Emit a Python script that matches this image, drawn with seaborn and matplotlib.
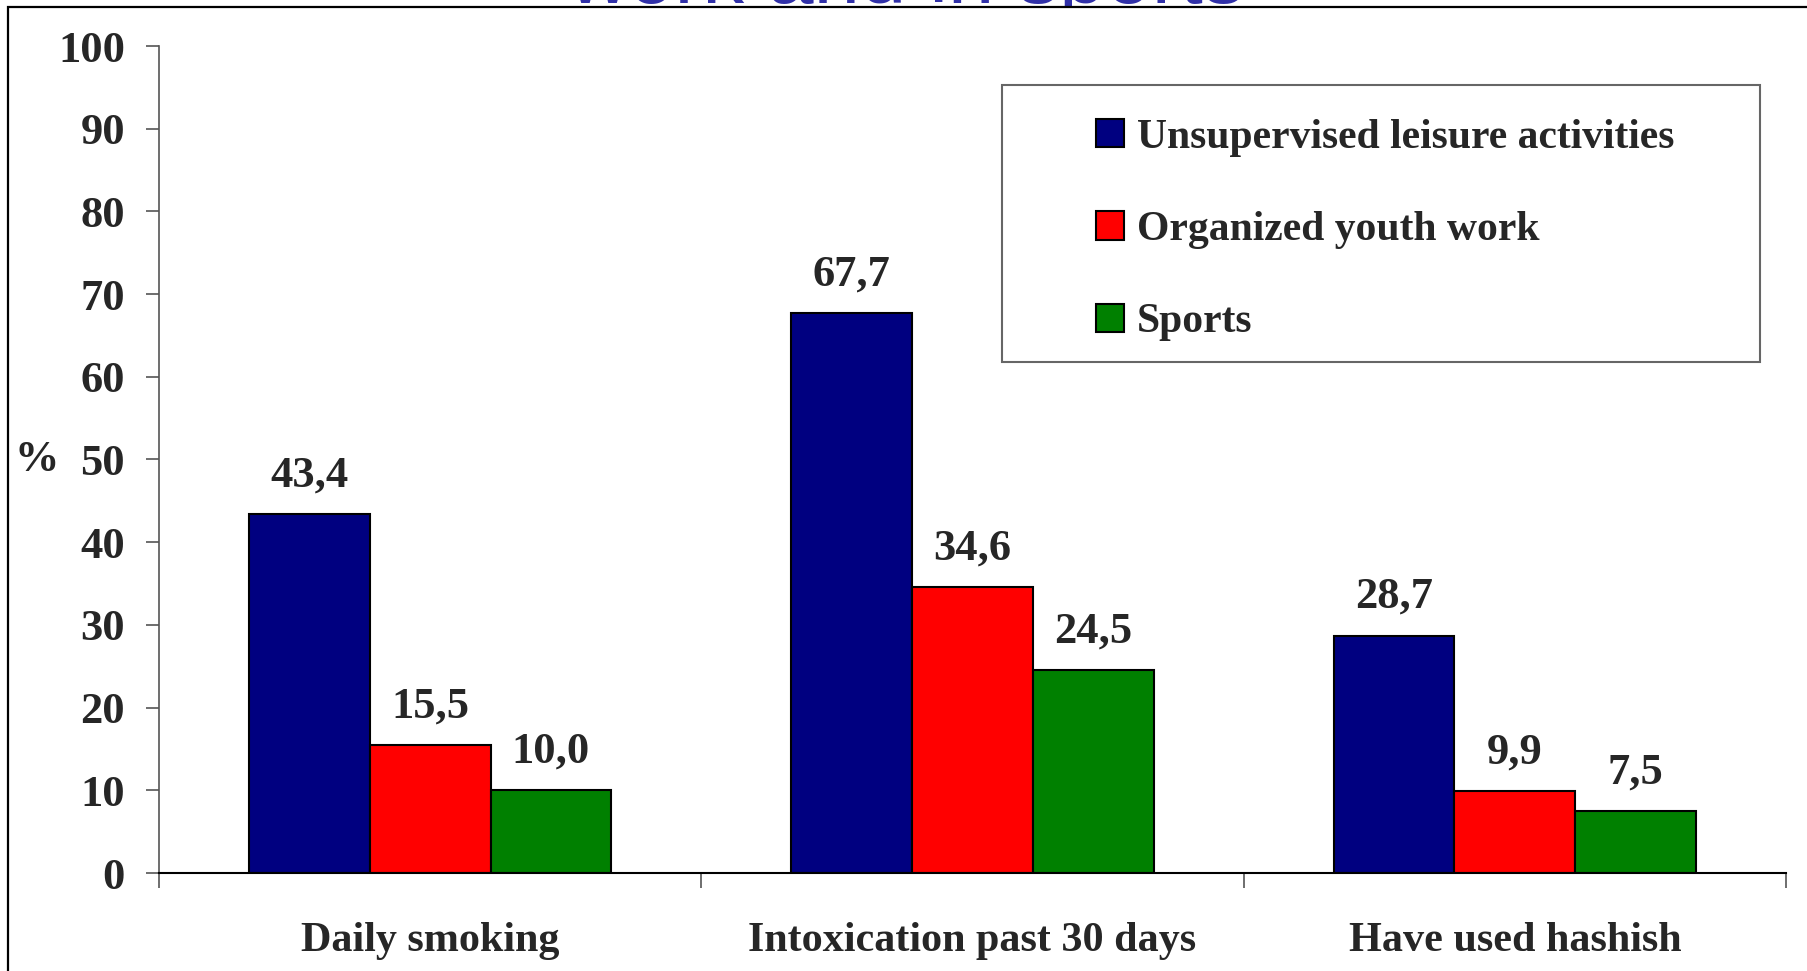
import matplotlib
matplotlib.use("Agg")
import matplotlib.pyplot as plt
from matplotlib.patches import Rectangle, Patch
import seaborn as sns
import pandas as pd

# ---- data ----
categories = ["Daily smoking", "Intoxication past 30 days", "Have used hashish"]
groups = ["Unsupervised leisure activities", "Organized youth work", "Sports"]
unsupervised = [43.4, 67.7, 28.7]
organized = [15.5, 34.6, 9.9]
sports = [10.0, 24.5, 7.5]
colors = ["#000080", "#FF0000", "#008000"]
yticks = [0, 10, 20, 30, 40, 50, 60, 70, 80, 90, 100]
title_text = "work and in sports"

series = [unsupervised, organized, sports]
rows = []
for g, vals in zip(groups, series):
    for c, v in zip(categories, vals):
        rows.append({"category": c, "group": g, "value": v})
df = pd.DataFrame(rows)

sns.set_style("white")
plt.rcParams["font.family"] = ["Liberation Serif", "DejaVu Serif"]
plt.rcParams["font.weight"] = "bold"

W, H = 1808, 971
fig = plt.figure(figsize=(W / 100, H / 100), dpi=100)
fig.patch.set_facecolor("white")

ax = fig.add_axes([159 / W, 1 - 873 / H, (1786 - 159) / W, (873 - 46) / H])
ax.set_facecolor("none")

sns.barplot(data=df, x="category", y="value", hue="group", order=categories,
            hue_order=groups, palette=colors, width=0.668, gap=0,
            edgecolor="black", linewidth=1.5, saturation=1, legend=False, ax=ax)

for cont in ax.containers:
    vals = [b.get_height() for b in cont]
    ax.bar_label(cont, labels=[f"{v:.1f}".replace(".", ",") for v in vals],
                 padding=13.5, fontsize=32, fontweight="bold")

ax.set_ylim(0, 100)
ax.set_xlim(-0.5, 2.5)
ax.set_yticks(yticks)
ax.set_yticklabels([str(t) for t in yticks], fontsize=32, fontweight="bold")
ax.set_xticks(range(len(categories)))
ax.set_xticklabels(categories, fontsize=30.3, fontweight="bold")
ax.set_xticks([-0.5, 0.5, 1.5, 2.5], minor=True)
ax.tick_params(axis="x", which="major", length=0, pad=35.5)
ax.tick_params(axis="x", which="minor", length=11, width=1.2, color="#555555",
               direction="out", bottom=True)
ax.tick_params(axis="y", length=9.5, width=1.2, color="#555555", direction="out",
               pad=15, left=True)
ax.set_xlabel("")
ax.set_ylabel("%", rotation=0, fontsize=32, fontweight="bold", va="center", ha="center")
ax.yaxis.set_label_coords((37 - 159) / (1786 - 159), 0.5)

for s in ["top", "right"]:
    ax.spines[s].set_visible(False)
ax.spines["left"].set_color("#555555")
ax.spines["left"].set_linewidth(1.2)
ax.spines["bottom"].set_color("black")
ax.spines["bottom"].set_linewidth(1.5)
ax.grid(False)

# legend
handles = [Patch(facecolor=c, edgecolor="black", linewidth=1.5) for c in colors]
leg = ax.legend(handles, groups, loc="upper left",
                bbox_to_anchor=(1096 / W, 1 - 119 / H), bbox_transform=fig.transFigure,
                frameon=False, borderpad=0, borderaxespad=0,
                handlelength=0.66, handleheight=0.66, handletextpad=0.33,
                labelspacing=1.3, prop={"size": 30, "weight": "bold"})

# legend box
fig.patches.append(Rectangle((1002 / W, 1 - 362 / H), (1760 - 1002) / W, (362 - 85) / H,
                             transform=fig.transFigure, fill=False,
                             edgecolor="#666666", linewidth=1.5, zorder=5))

# slide frame and clipped title
fig.patches.append(Rectangle((8 / W, -0.1), 1.2, 1.1 - 7 / H, transform=fig.transFigure,
                             facecolor="white", edgecolor="black", linewidth=1.6,
                             zorder=-1))
fig.text(568 / W, 1 - 2.5 / H, title_text, fontsize=60, color="#3030A8",
         family=["Liberation Sans", "DejaVu Sans"], fontweight="normal",
         ha="left", va="baseline", zorder=-2)

fig.savefig("out.png", dpi=100)
